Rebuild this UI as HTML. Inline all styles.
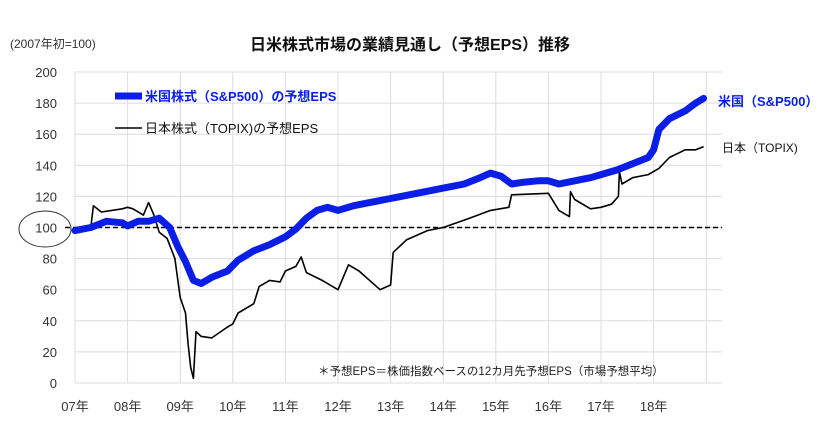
<!DOCTYPE html>
<html><head><meta charset="utf-8"><style>
body{margin:0;background:#fff;}
svg text{font-family:"Liberation Sans","Noto Sans CJK JP",sans-serif;}
</style></head><body>
<svg width="840" height="420" viewBox="0 0 840 420" id="chart">
<rect width="840" height="420" fill="#fff"/>
<text x="10" y="48" font-size="12" fill="#333">(2007年初=100)</text>
<text x="410" y="50" font-size="16" font-weight="bold" text-anchor="middle" fill="#111">日米株式市場の業績見通し（予想EPS）推移</text>
<g id="grid"></g>
<g id="axes"></g>
<g id="series"></g>
<ellipse cx="45" cy="229" rx="26" ry="18" fill="none" stroke="#333" stroke-width="1"/>
<g>
<line x1="115" y1="96" x2="142" y2="96" stroke="#0a1ee6" stroke-width="7"/>
<text x="145" y="101" font-size="13" font-weight="bold" fill="#0a1ee6">米国株式（S&amp;P500）の予想EPS</text>
<line x1="115" y1="128" x2="142" y2="128" stroke="#000" stroke-width="1.6"/>
<text x="145" y="133" font-size="13" fill="#111">日本株式（TOPIX)の予想EPS</text>
</g>
<text x="718" y="106" font-size="13" font-weight="bold" fill="#0a1ee6">米国（S&amp;P500）</text>
<text x="722" y="152" font-size="12" fill="#111">日本（TOPIX)</text>
<text x="318" y="375" font-size="11.5" fill="#222">＊予想EPS＝株価指数ベースの12カ月先予想EPS（市場予想平均）</text>
</svg>
<script>
const yTicks=[0,20,40,60,80,100,120,140,160,180,200];
const xLabels=["07年","08年","09年","10年","11年","12年","13年","14年","15年","16年","17年","18年"];
const usDates=[2007.0,2007.3,2007.6,2007.9,2008.0,2008.2,2008.4,2008.6,2008.8,2008.95,2009.1,2009.25,2009.4,2009.6,2009.9,2010.1,2010.4,2010.7,2011.0,2011.2,2011.4,2011.6,2011.8,2012.0,2012.3,2012.6,2012.9,2013.2,2013.5,2013.8,2014.1,2014.4,2014.7,2014.9,2015.1,2015.3,2015.5,2015.8,2016.0,2016.2,2016.5,2016.8,2017.0,2017.3,2017.6,2017.9,2018.0,2018.1,2018.3,2018.6,2018.8,2018.95];
const usValues=[98,100,104,103,101,104,104,106,100,88,78,66,64,68,72,79,85,89,94,99,106,111,113,111,114,116,118,120,122,124,126,128,132,135,133,128,129,130,130,128,130,132,134,137,141,145,150,163,170,175,180,183];
const jpDates=[2007.0,2007.3,2007.35,2007.5,2007.7,2007.9,2008.0,2008.1,2008.3,2008.4,2008.5,2008.6,2008.75,2008.9,2009.0,2009.1,2009.15,2009.2,2009.25,2009.3,2009.4,2009.6,2009.9,2010.0,2010.1,2010.4,2010.5,2010.7,2010.9,2011.0,2011.2,2011.3,2011.4,2011.7,2012.0,2012.2,2012.4,2012.8,2013.0,2013.05,2013.3,2013.7,2014.0,2014.5,2014.9,2015.25,2015.3,2016.0,2016.2,2016.4,2016.42,2016.5,2016.8,2017.0,2017.2,2017.33,2017.35,2017.4,2017.6,2017.9,2018.1,2018.3,2018.6,2018.8,2018.95];
const jpValues=[98,100,114,110,111,112,113,112,108,116,108,97,93,80,55,45,25,10,3,33,30,29,36,38,45,51,62,66,65,72,75,81,71,66,60,76,72,60,63,84,92,98,100,106,111,113,121,122,111,107,123,118,112,113,115,120,136,128,132,134,138,145,150,150,152];
const NS="http://www.w3.org/2000/svg";
const X0=75,YRW=52.6,Y0=383,PPU=1.555,XR=722;
const xs=d=>X0+(d-2007)*YRW, ys=v=>Y0-v*PPU;
function mk(t,a,p){const e=document.createElementNS(NS,t);for(const k in a)e.setAttribute(k,a[k]);p.appendChild(e);return e;}
const grid=document.getElementById('grid'),axes=document.getElementById('axes'),ser=document.getElementById('series');
yTicks.forEach(v=>{
 const l=mk('line',{x1:X0,x2:XR,y1:ys(v),y2:ys(v),stroke:'#dcdcdc','stroke-width':1},grid);
 
 
 const t=mk('text',{x:57,y:ys(v)+5,'font-size':13,'text-anchor':'end',fill:'#333'},axes);
 t.textContent=v;
 
 
});
for(let i=0;i<=12;i++){
 const l=mk('line',{x1:xs(2007+i),x2:xs(2007+i),y1:ys(0),y2:ys(200),stroke:'#dcdcdc','stroke-width':1},grid);
 
 
}
xLabels.forEach((s,i)=>{
 const t=mk('text',{x:xs(2007+i),y:411,'font-size':13,'text-anchor':'middle',fill:'#333'},axes);
 t.textContent=s;
 
 
});
const base=mk('line',{x1:X0-10,x2:XR,y1:ys(100),y2:ys(100),stroke:'#000','stroke-width':1.6,'stroke-dasharray':'5,3'},ser);


const pts=(d,v)=>d.map((x,i)=>xs(x).toFixed(1)+','+ys(v[i]).toFixed(1)).join(' ');
const jp=mk('polyline',{points:pts(jpDates,jpValues),fill:'none',stroke:'#000','stroke-width':1.6,'stroke-linejoin':'round'},ser);


const us=mk('polyline',{points:pts(usDates,usValues),fill:'none',stroke:'#0a1ee6','stroke-width':7,'stroke-linejoin':'round','stroke-linecap':'round'},ser);


</script>
</body></html>
